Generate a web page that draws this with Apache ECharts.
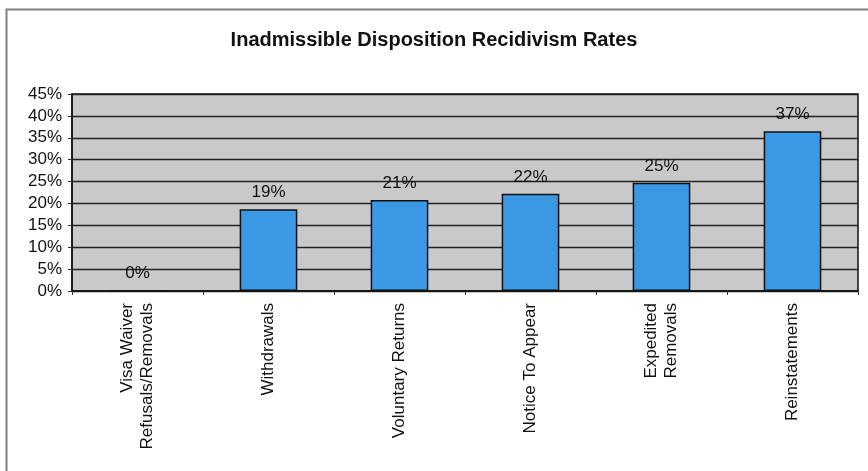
<!DOCTYPE html>
<html>
<head>
<meta charset="utf-8">
<script src="https://cdn.jsdelivr.net/npm/echarts@6/dist/echarts.min.js"></script>
<style>
    html, body { margin: 0; padding: 0; background: #fff; }
    #chart { width: 868px; height: 471px; }
</style>
</head>
<body>
<div id="chart"></div>
<script>
// categories along the x axis
var categories = [
    'Visa Waiver\nRefusals/Removals',
    'Withdrawals',
    'Voluntary Returns',
    'Notice To Appear',
    'Expedited\nRemovals',
    'Reinstatements'
]
// recidivism rate, percent
var rates = [0, 18.7, 20.8, 22.2, 24.7, 36.5]
var yMax = 45
var yStep = 5

var chart = echarts.init(document.getElementById('chart'))
chart.setOption({
    backgroundColor: '#fff',
    animation: false,
    textStyle: { fontFamily: 'Liberation Sans, Arial, sans-serif' },
    title: {
        text: 'Inadmissible Disposition Recidivism Rates',
        left: 'center',
        top: 25,
        textStyle: { fontSize: 20, fontWeight: 'bold', color: '#111' }
    },
    // frame round the chart (only top and left edges show in the scan)
    graphic: [{
        type: 'polyline',
        shape: { points: [[6.5, 471], [6.5, 9.5], [868, 9.5]] },
        style: { stroke: '#808080', lineWidth: 2, fill: null },
        silent: true
    }],
    grid: {
        left: 72,
        right: 10,
        top: 94,
        bottom: 180,
        show: true,
        backgroundColor: '#c9c9c9',
        borderColor: '#111',
        borderWidth: 1.5
    },
    xAxis: {
        type: 'category',
        data: categories,
        axisLine: { lineStyle: { color: '#111', width: 1.5 } },
        axisTick: { show: true, alignWithLabel: false, length: 4, lineStyle: { color: '#333' } },
        axisLabel: {
            rotate: 90,
            interval: 0,
            margin: 12,
            fontSize: 17,
            lineHeight: 20,
            color: '#111'
        }
    },
    yAxis: {
        type: 'value',
        min: 0,
        max: yMax,
        interval: yStep,
        axisLine: { show: true, lineStyle: { color: '#111', width: 1.5 } },
        axisTick: { show: true, length: 4, lineStyle: { color: '#333' } },
        splitLine: { show: true, lineStyle: { color: '#222', width: 1.4 } },
        axisLabel: {
            formatter: '{value}%',
            fontSize: 17,
            margin: 10,
            color: '#111'
        }
    },
    series: [{
        type: 'bar',
        data: rates,
        barWidth: '44%',
        itemStyle: {
            color: '#3b98e4',
            borderColor: '#111',
            borderWidth: 1.5
        },
        label: {
            show: true,
            position: 'top',
            distance: 8,
            fontSize: 17,
            color: '#111',
            formatter: function (p) {
                return Math.round(p.value) + '%'
            }
        }
    }]
})
</script>
</body>
</html>
